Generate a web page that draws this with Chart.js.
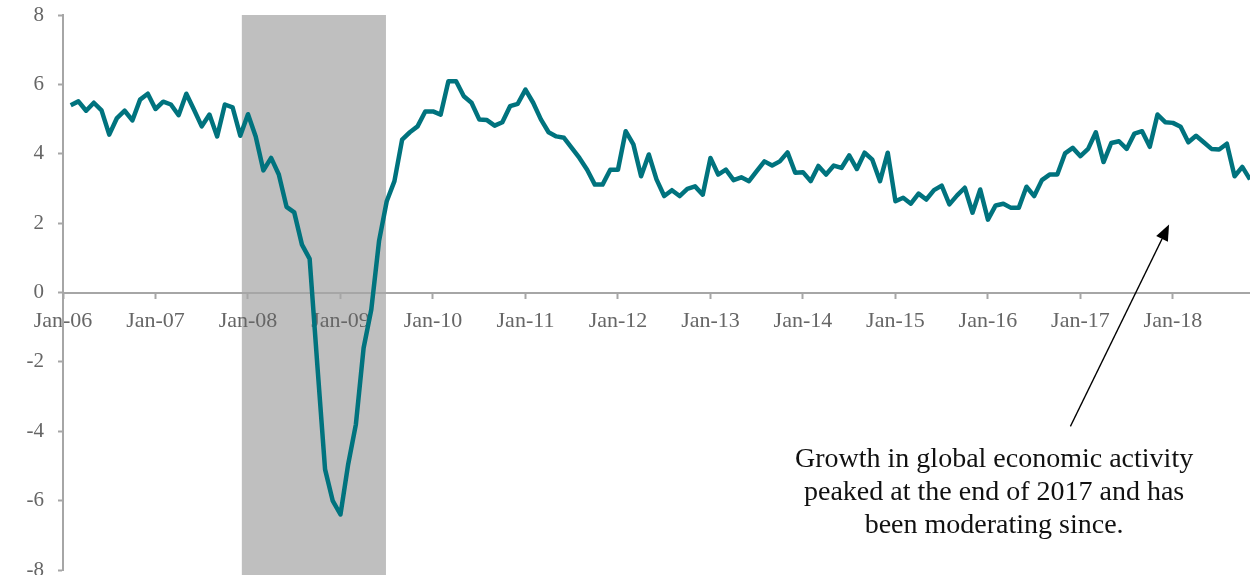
<!DOCTYPE html>
<html>
<head>
<meta charset="utf-8">
<script src="https://cdn.jsdelivr.net/npm/chart.js@4"></script>
<style>
  html, body { margin: 0; padding: 0; background: #fff; }
  #wrap { width: 1250px; height: 575px; position: relative; }
</style>
</head>
<body>
<div id="wrap"><canvas id="activityChart"></canvas></div>
<script>
// monthly readings, one array per year (2006 starts in Feb, 2018 ends in Nov)
const v2006 = [5.40, 5.51, 5.24, 5.47, 5.25, 4.55, 5.03, 5.24, 4.96, 5.56, 5.73];
const v2007 = [5.29, 5.50, 5.42, 5.11, 5.73, 5.27, 4.79, 5.13, 4.50, 5.42, 5.34, 4.52];
const v2008 = [5.14, 4.50, 3.52, 3.88, 3.40, 2.47, 2.31, 1.38, 0.97, -2.10, -5.10, -6.01];
const v2009 = [-6.40, -4.95, -3.80, -1.60, -0.49, 1.48, 2.63, 3.21, 4.41, 4.62, 4.79, 5.22];
const v2010 = [5.22, 5.13, 6.09, 6.09, 5.66, 5.47, 4.99, 4.97, 4.81, 4.91, 5.37, 5.44];
const v2011 = [5.85, 5.47, 4.99, 4.62, 4.50, 4.46, 4.17, 3.88, 3.54, 3.11, 3.11, 3.54];
const v2012 = [3.54, 4.65, 4.27, 3.35, 3.98, 3.26, 2.78, 2.95, 2.78, 2.99, 3.06, 2.82];
const v2013 = [3.88, 3.40, 3.54, 3.24, 3.32, 3.21, 3.50, 3.78, 3.66, 3.78, 4.04, 3.45];
const v2014 = [3.47, 3.21, 3.65, 3.40, 3.66, 3.59, 3.95, 3.56, 4.03, 3.83, 3.21, 4.03];
const v2015 = [2.63, 2.73, 2.56, 2.85, 2.68, 2.95, 3.08, 2.54, 2.80, 3.02, 2.30, 2.97];
const v2016 = [2.10, 2.51, 2.56, 2.44, 2.44, 3.05, 2.78, 3.24, 3.40, 3.40, 4.01, 4.17];
const v2017 = [3.93, 4.14, 4.62, 3.76, 4.31, 4.36, 4.14, 4.58, 4.65, 4.20, 5.13, 4.91];
const v2018 = [4.89, 4.78, 4.33, 4.52, 4.33, 4.14, 4.12, 4.29, 3.35, 3.62, 3.26];

const yTicks = [-8, -6, -4, -2, 0, 2, 4, 6, 8];
const recession = ['Dec-07', 'Jun-09'];
const noteLines = [
    'Growth in global economic activity',
    'peaked at the end of 2017 and has',
    'been moderating since.'
];

const monthNames = ['Jan', 'Feb', 'Mar', 'Apr', 'May', 'Jun', 'Jul', 'Aug', 'Sep', 'Oct', 'Nov', 'Dec'];
const years = ['06', '07', '08', '09', '10', '11', '12', '13', '14', '15', '16', '17', '18'];
const months = [];
years.forEach(yy => monthNames.forEach(m => months.push(m + '-' + yy)));
months.length = months.indexOf('Nov-18') + 1;

// Jan-06 has no reading, the axis just starts there
const values = [null].concat(v2006, v2007, v2008, v2009, v2010, v2011, v2012,
    v2013, v2014, v2015, v2016, v2017, v2018);

const serif = "'Liberation Serif', 'Times New Roman', serif";
const axisGrey = '#a6a6a6';

// grey band for the recession, drawn under axes and line
const bandPlugin = {
    id: 'band',
    beforeDraw(chart) {
        const { ctx, chartArea, scales } = chart;
        const x0 = scales.x.getPixelForValue(months.indexOf(recession[0]) + 0.2);
        const x1 = scales.x.getPixelForValue(months.indexOf(recession[1]) + 0.9);
        ctx.save();
        ctx.fillStyle = '#bfbfbf';
        ctx.fillRect(x0, chartArea.top, x1 - x0, chart.height - chartArea.top);
        ctx.restore();
    }
};

// arrow + text note (positions given in axis units)
const note = { textX: 120.8, textY: -5.04, lineGap: 33, tail: [130.7, -3.86], tip: [143.5, 1.96] };

const notePlugin = {
    id: 'note',
    afterDraw(chart) {
        const { ctx, scales: { x, y } } = chart;
        const tx = x.getPixelForValue(note.tail[0]), ty = y.getPixelForValue(note.tail[1]);
        const hx = x.getPixelForValue(note.tip[0]), hy = y.getPixelForValue(note.tip[1]);
        const ang = Math.atan2(hy - ty, hx - tx);
        const len = 16, half = 6.5;
        const bx = hx - len * Math.cos(ang), by = hy - len * Math.sin(ang);

        ctx.save();
        ctx.strokeStyle = '#000';
        ctx.fillStyle = '#000';
        ctx.lineWidth = 1.3;
        ctx.beginPath();
        ctx.moveTo(tx, ty);
        ctx.lineTo(bx, by);
        ctx.stroke();
        ctx.beginPath();
        ctx.moveTo(hx, hy);
        ctx.lineTo(bx + half * Math.sin(ang), by - half * Math.cos(ang));
        ctx.lineTo(bx - half * Math.sin(ang), by + half * Math.cos(ang));
        ctx.closePath();
        ctx.fill();

        ctx.font = '28px ' + serif;
        ctx.textAlign = 'center';
        ctx.textBaseline = 'alphabetic';
        ctx.fillStyle = '#111';
        const cx = x.getPixelForValue(note.textX);
        const cy = y.getPixelForValue(note.textY);
        noteLines.forEach((line, i) => ctx.fillText(line, cx, cy + i * note.lineGap));
        ctx.restore();
    }
};

// stop the scales from reserving extra room around the plot for their labels
function noPadding(scale) {
    scale.paddingTop = 0;
    scale.paddingBottom = 0;
    scale.paddingLeft = 0;
    scale.paddingRight = 0;
}

const ctx = document.getElementById('activityChart').getContext('2d');
const activityChart = new Chart(ctx, {
    type: 'line',
    data: {
        labels: months,
        datasets: [{
            data: values,
            borderColor: '#00737e',
            borderWidth: 4.5,
            borderJoinStyle: 'round',
            pointRadius: 0,
            tension: 0,
            fill: false
        }]
    },
    options: {
        responsive: true,
        maintainAspectRatio: false,
        animation: false,
        layout: { padding: { top: 15, right: 0, bottom: 5, left: 0 } },
        plugins: {
            legend: { display: false },
            tooltip: { enabled: false }
        },
        scales: {
            x: {
                type: 'category',
                position: { y: 0 },
                offset: false,
                border: { color: axisGrey, width: 2 },
                grid: {
                    drawOnChartArea: false,
                    drawTicks: true,
                    tickLength: 5,
                    tickWidth: 2,
                    tickColor: c => (c.index % 12 === 0 ? axisGrey : 'rgba(0,0,0,0)')
                },
                afterFit: noPadding,
                ticks: {
                    autoSkip: false,
                    maxRotation: 0,
                    padding: 11,
                    color: '#666666',
                    font: { family: serif, size: 22 },
                    callback: (val, i) => (i % 12 === 0 ? months[i] : '')
                }
            },
            y: {
                min: -8,
                max: 8,
                border: { color: axisGrey, width: 2 },
                grid: {
                    drawOnChartArea: false,
                    drawTicks: true,
                    tickLength: 5,
                    tickWidth: 2,
                    color: axisGrey
                },
                afterBuildTicks: scale => { scale.ticks = yTicks.map(v => ({ value: v })); },
                afterFit: scale => { noPadding(scale); scale.width = 63; },
                ticks: {
                    padding: 14,
                    color: '#666666',
                    font: { family: serif, size: 21 }
                }
            }
        }
    },
    plugins: [bandPlugin, notePlugin]
});
</script>
</body>
</html>
